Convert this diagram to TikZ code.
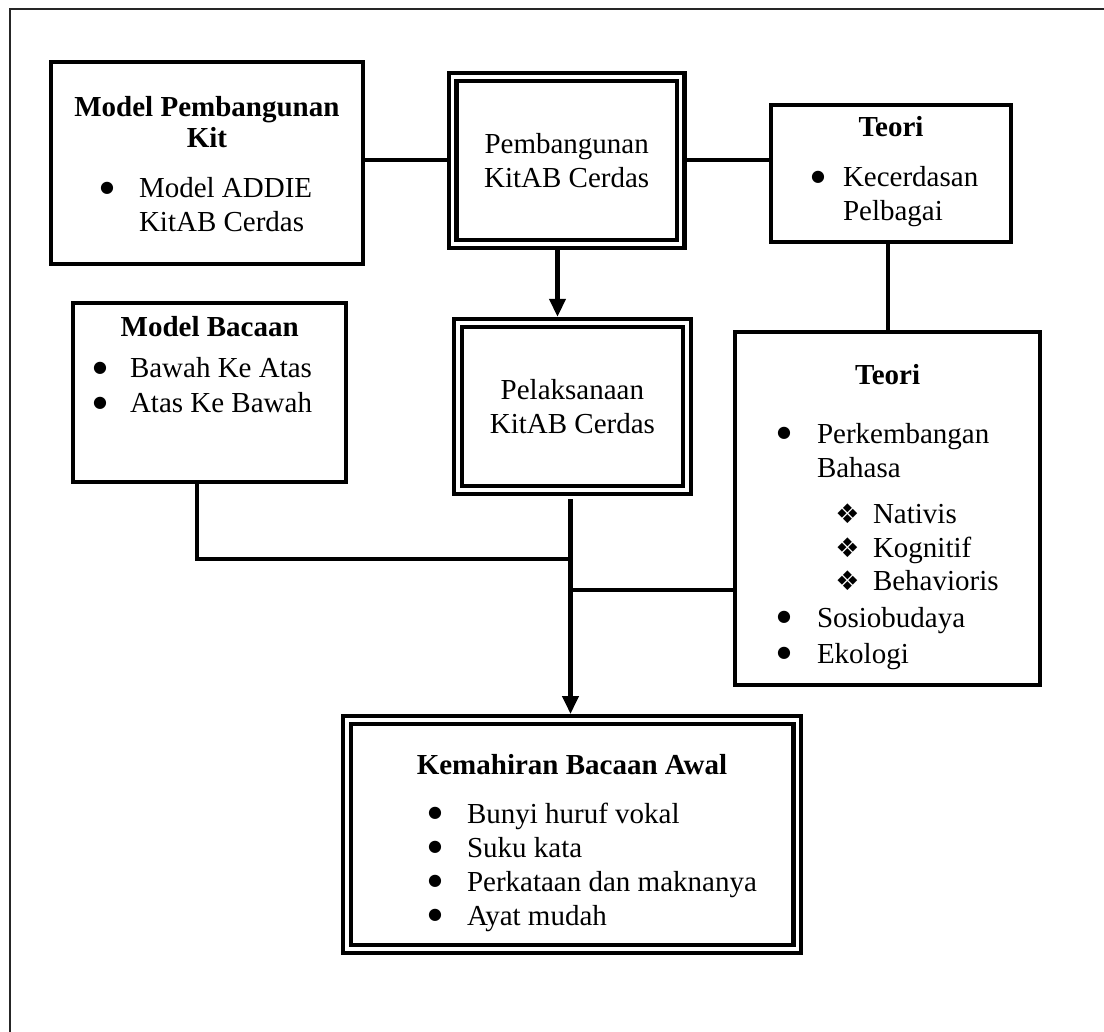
\documentclass[tikz,border=0pt]{standalone}
\usepackage{fontspec}
\setmainfont{Liberation Serif}
\newfontfamily\symfont{DejaVu Sans}
\usetikzlibrary{arrows.meta,backgrounds}
\newcommand\bodyfont{\fontsize{29}{34}\selectfont}
\begin{document}
\begin{tikzpicture}[x=1pt,y=-1pt,
  every node/.style={inner sep=0pt, outer sep=0pt, font=\bodyfont},
  box/.style={draw, line width=4.2pt},
  dbox/.style={draw, double, line width=4.3pt, double distance=3.5pt, align=center},
  hd/.style={anchor=base, font=\bodyfont\bfseries},
  txt/.style={anchor=base west},
  bul/.style={anchor=center, font=\fontsize{16}{16}\selectfont\symfont},
  dia/.style={anchor=center, font=\fontsize{27}{27}\selectfont\symfont},
  ln/.style={line width=4.2pt},
  arr/.style={line width=4.2pt, -{Triangle[length=18pt,width=16pt]}}
]
\useasboundingbox (0,0) rectangle (1104,1032);

% page frame
\draw[line width=2pt, black!85] (1104,9.5) -- (9.5,9.5) -- (9.5,1032);

% boxes
\node[box, minimum width=311.8pt, minimum height=201.8pt] (B1) at (206.9,162.9) {};
\node[dbox, minimum width=228pt, minimum height=167pt] (C1) at (566.7,160.35) {Pembangunan\\KitAB Cerdas};
\node[box, minimum width=240pt, minimum height=137pt] (T1) at (891,173.5) {};
\node[dbox, minimum width=229pt, minimum height=167pt] (C2) at (572.4,406.3) {Pelaksanaan\\KitAB Cerdas};
\node[box, minimum width=273.3pt, minimum height=179pt] (MB) at (209.7,392.5) {};
\node[box, minimum width=304.7pt, minimum height=353pt] (T2) at (887.6,508.5) {};
\node[dbox, minimum width=450.5pt, minimum height=229pt] (K) at (572,834.5) {};

% Model Pembangunan Kit
\node[hd] (b1t) at (206.9,117) {Model Pembangunan};
\node[hd] (b1k) at (206.9,148) {Kit};
\node[bul] (b1b) at (107,188.5) {●};
\node[txt] (b1i) at (139,198) {Model ADDIE};
\node[txt] (b1j) at (139,232) {KitAB Cerdas};

% Teori (kecerdasan)
\node[hd] (t1t) at (891,137) {Teori};
\node[bul] (t1b) at (818,177.5) {●};
\node[txt] (t1i) at (843,187) {Kecerdasan};
\node[txt] (t1j) at (843,221) {Pelbagai};

% Model Bacaan
\node[hd] (mbt) at (209.7,337) {Model Bacaan};
\node[bul] (mbb1) at (100,368.5) {●};
\node[txt] (mbi1) at (130,378) {Bawah Ke Atas};
\node[bul] (mbb2) at (100,403.5) {●};
\node[txt] (mbi2) at (130,413) {Atas Ke Bawah};

% Teori (perkembangan)
\node[hd] (t2t) at (887.6,385) {Teori};
\node[bul] (t2b1) at (784,433.5) {●};
\node[txt] (t2i1) at (817,443) {Perkembangan};
\node[txt] (t2i1b) at (817,477) {Bahasa};
\node[dia] (t2d1) at (847.5,513.5) {❖};
\node[txt] (t2n1) at (873,523) {Nativis};
\node[dia] (t2d2) at (847.5,547.5) {❖};
\node[txt] (t2n2) at (873,557) {Kognitif};
\node[dia] (t2d3) at (847.5,580.5) {❖};
\node[txt] (t2n3) at (873,590) {Behavioris};
\node[bul] (t2b2) at (784,617.5) {●};
\node[txt] (t2i2) at (817,627) {Sosiobudaya};
\node[bul] (t2b3) at (784,653.5) {●};
\node[txt] (t2i3) at (817,663) {Ekologi};

% Kemahiran Bacaan Awal
\node[hd] (kt) at (572,774) {Kemahiran Bacaan Awal};
\node[bul] (kb1) at (435,813.5) {●};
\node[txt] (ki1) at (467,823) {Bunyi huruf vokal};
\node[bul] (kb2) at (435,847.5) {●};
\node[txt] (ki2) at (467,857) {Suku kata};
\node[bul] (kb3) at (435,881.5) {●};
\node[txt] (ki3) at (467,891) {Perkataan dan maknanya};
\node[bul] (kb4) at (435,915.5) {●};
\node[txt] (ki4) at (467,925) {Ayat mudah};

% connectors
\coordinate (a1) at (557.5,0);
\coordinate (a2) at (570.5,0);
\coordinate (mj) at (197,558.7);
\coordinate (tj) at (570.5,589.7);
\begin{scope}[on background layer]
  \draw[ln] (B1.east |- C1.west) -- (C1.west);
  \draw[ln] (C1.east) -- (C1.east -| T1.west);
  \draw[ln] (T2.north) -- (T2.north |- T1.south);
  \draw[arr, shorten >=6pt] (C1.south -| a1) -- (C2.north -| a1);
  \draw[ln] (MB.south -| mj) -- (mj) -- (mj -| a2);
  \draw[ln] (T2.west |- tj) -- (tj);
  \draw[arr, shorten <=9.6pt, shorten >=6pt] (C2.south -| a2) -- (K.north -| a2);
\end{scope}
\end{tikzpicture}
\end{document}
